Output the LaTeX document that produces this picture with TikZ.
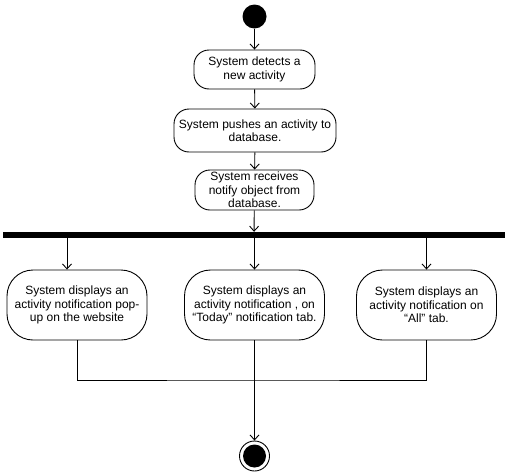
\documentclass[tikz,border=0pt]{standalone}
\usepackage{fontspec}
\setmainfont{Liberation Sans}
\usetikzlibrary{arrows.meta}
\begin{document}
\begin{tikzpicture}[x=1pt,y=-1pt,
  act/.style={draw, line width=0.9pt, rounded corners=15pt, align=center, inner sep=0pt,
    font=\fontsize{12}{13.5}\selectfont},
  actbig/.style={act, rounded corners=26pt, minimum width=140pt, minimum height=70pt},
  flow/.style={draw, line width=0.9pt, -{Straight Barb[length=5pt,width=9pt,line width=0.9pt]}},
  plain/.style={draw, line width=0.9pt}]
\useasboundingbox (0,0) rectangle (508,471);
\node[circle, fill=black, minimum size=24pt, inner sep=0pt] (start) at (254.5,16.5) {};
\node[act, minimum width=121pt, minimum height=39pt] (b1) at (254.5,69.5) {System detects a\\new activity};
\node[act, minimum width=162pt, minimum height=43pt] (b2) at (255,130.5) {System pushes an activity to\\database.};
\node[act, minimum width=119pt, minimum height=40pt] (b3) at (254.5,190) {System receives\\notify object from\\database.};
\node[fill=black, minimum width=502pt, minimum height=6pt, inner sep=0pt] (bar) at (254,235) {};
\node[actbig] (c1) at (77,305) {System displays an\\activity notification pop-\\up on the website};
\node[actbig] (c2) at (254.5,305) {System displays an\\activity notification , on\\“Today” notification tab.};
\node[actbig] (c3) at (426.5,305) {System displays an\\activity notification on\\“All” tab.};
\node[circle, draw, line width=0.9pt, minimum size=30pt, inner sep=0pt,
  path picture={\fill[black] (path picture bounding box.center) circle (11.5pt);}] (end) at (254.5,456) {};
\coordinate (c1in) at ([xshift=-10pt]c1.north);
\coordinate (j) at (254.5,380);
\draw[flow] (start) -- (b1);
\draw[flow] (b1) -- (b2);
\draw[flow] (b2) -- (b3);
\draw[flow] (b3) -- (bar);
\draw[flow] (c1in |- bar.south) -- (c1in);
\draw[flow] (bar.south -| c2.north) -- (c2.north);
\draw[flow] (bar.south -| c3.north) -- (c3.north);
\draw[plain] (c1.south) |- (j) -| (c3.south);
\draw[flow] (c2.south) -- (end);
\end{tikzpicture}
\end{document}
